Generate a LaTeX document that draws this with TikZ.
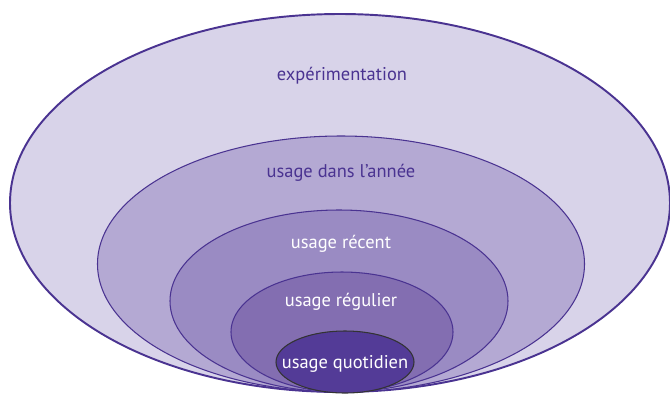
\documentclass[tikz,border=0pt]{standalone}
\usepackage{fontspec}
\setmainfont{PT Sans}
\usepackage{tikz}

\definecolor{ringline}{HTML}{4A3391}
\definecolor{ringA}{HTML}{D8D3E9}
\definecolor{ringB}{HTML}{B4A9D3}
\definecolor{ringC}{HTML}{9A8BC3}
\definecolor{ringD}{HTML}{836EB1}
\definecolor{ringE}{HTML}{533B97}

\begin{document}
\begin{tikzpicture}[x=0.02cm,y=-0.02cm,
  every node/.style={font=\fontsize{10.5}{12}\selectfont,align=center},
  ring/.style={draw=ringline,line width=0.6pt},
  darklbl/.style={text=ringline},
  lightlbl/.style={text=white}]
\useasboundingbox (0,0) rectangle (670,393);
\filldraw[ring,fill=ringA,line width=1.1pt] (340,203) ellipse [x radius=330,y radius=189];
\filldraw[ring,fill=ringB] (341,264) ellipse [x radius=243.5,y radius=128];
\filldraw[ring,fill=ringC] (339,301) ellipse [x radius=169,y radius=91];
\filldraw[ring,fill=ringD] (342,332) ellipse [x radius=111,y radius=60];
\filldraw[draw=black!80,line width=0.6pt,fill=ringE] (345,362) ellipse [x radius=69,y radius=31];
\node[darklbl] (exp) at (342,76) {expérimentation};
\node[darklbl] (annee) at (341,173) {usage dans l’année};
\node[lightlbl] (recent) at (341,244) {usage récent};
\node[lightlbl] (regulier) at (341,302) {usage régulier};
\node[lightlbl] (quotidien) at (345,364) {usage quotidien};
\end{tikzpicture}
\end{document}
